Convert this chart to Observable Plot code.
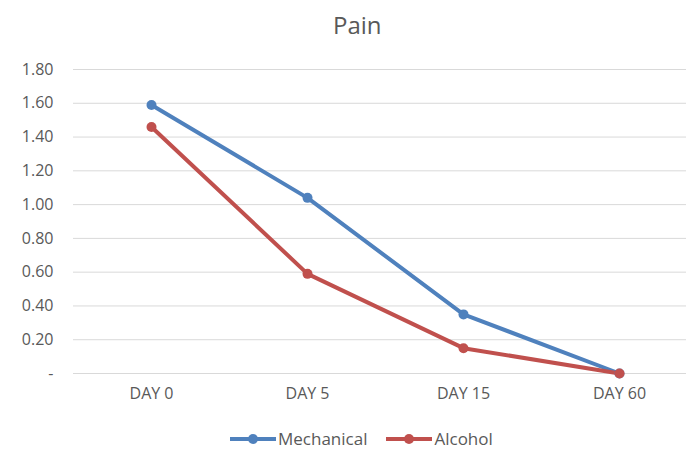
<!DOCTYPE html>
<html><head><meta charset="utf-8">
<script src="https://cdn.jsdelivr.net/npm/d3@7"></script>
<script src="https://cdn.jsdelivr.net/npm/@observablehq/plot@0.6"></script>
<style>
body{margin:0;background:#fff;font-family:"Open Sans",sans-serif;color:#595959;}
#wrap{position:relative;width:686px;height:449px;overflow:hidden;}
#title{position:absolute;top:5px;left:333px;font-size:24px;color:#595959;line-height:40px;}
#chart{position:absolute;top:50px;left:0;}
#legend{position:absolute;top:430px;left:230px;display:flex;align-items:center;gap:19px;font-size:17px;line-height:18px;height:18px;}
#legend span{display:flex;align-items:center;gap:2px;}
</style></head>
<body><div id="wrap"><div id="title">Pain</div><div id="chart"></div><div id="legend"></div></div>
<script>
const days = ["DAY 0","DAY 5","DAY 15","DAY 60"];
const mechanical = [1.59, 1.04, 0.35, 0.00];
const alcohol = [1.46, 0.59, 0.15, 0.00];
const seriesNames = ["Mechanical","Alcohol"];
const colors = ["#4F81BD","#C0504D"];
const yTicks = [0,0.2,0.4,0.6,0.8,1.0,1.2,1.4,1.6,1.8];

const data = [];
days.forEach((d,i)=>{
  data.push({day:d, value:mechanical[i], series:seriesNames[0]});
  data.push({day:d, value:alcohol[i], series:seriesNames[1]});
});

const fmt = d=> d===0 ? "-" : d.toFixed(2);
const plot = Plot.plot({
  width:686, height:363,
  marginLeft:73, marginRight:0, marginTop:19, marginBottom:40,
  style:{fontFamily:"Open Sans, sans-serif", fontSize:"16px", color:"#595959", background:"transparent"},
  x:{type:"band", domain:days, range:[73,697], padding:0, label:null},
  y:{domain:[0,1.8], label:null},
  color:{domain:seriesNames, range:colors},
  marks:[
    Plot.ruleY(yTicks,{stroke:"#d9d9d9", strokeWidth:1}),
    Plot.axisY({ticks:yTicks, tickSize:0, tickPadding:20, tickFormat:fmt, fill:"#595959", fontSize:16, label:null}),
    Plot.axisX({tickSize:0, tickPadding:14, fill:"#595959", fontSize:16, label:null}),
    Plot.line(data,{x:"day", y:"value", z:"series", stroke:"series", strokeWidth:4, strokeLinejoin:"round"}),
    Plot.dot(data,{x:"day", y:"value", fill:"series", r:5})
  ]
});
document.getElementById("chart").appendChild(plot);

const leg = document.getElementById("legend");
seriesNames.forEach((s,i)=>{
  const sp = document.createElement("span");
  sp.innerHTML = `<svg width="46" height="12"><line x1="0" y1="6" x2="46" y2="6" stroke="${colors[i]}" stroke-width="4"/><circle cx="23" cy="6" r="5" fill="${colors[i]}"/></svg>${s}`;
  leg.appendChild(sp);
});
</script></body></html>
